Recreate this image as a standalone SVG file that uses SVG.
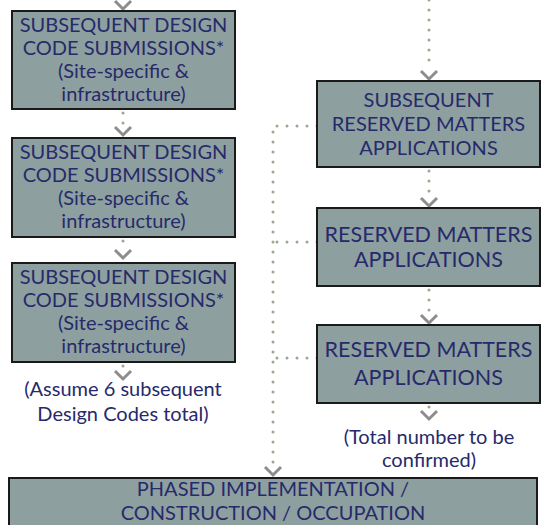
<svg xmlns="http://www.w3.org/2000/svg" width="547" height="525" viewBox="0 0 547 525">
<style>
.box{fill:#8e9f9f;stroke:#1a1a1a;stroke-width:2}
.t{font-family:Lato,"Open Sans",sans-serif;fill:#262a6b;text-anchor:middle}
.s20{font-size:20px}
.s22{font-size:21.5px}
.dot{stroke:#9aa88f;stroke-width:3;stroke-linecap:round;stroke-dasharray:0 10;fill:none}
.chev{stroke:#8d8d8d;stroke-width:3;fill:none}
</style>
<rect width="547" height="525" fill="#ffffff"/>
<g id="connectors">
  <path class="dot" d="M429 0V68"/>
  <path class="dot" d="M429 171V200"/>
  <path class="dot" d="M429 290V317"/>
  <path class="dot" d="M429 407V413"/>
  <path class="dot" d="M123 113V128"/>
  <path class="dot" d="M123 241V250"/>
  <path class="dot" d="M123 366V372"/>
  <path class="dot" d="M317 126H273V468"/>
  <path class="dot" d="M317 242H273"/>
  <path class="dot" d="M317 358H273"/>
  <polyline class="chev" points="115,1 123,9 131,1"/>
  <polyline class="chev" points="115,127 123,135 131,127"/>
  <polyline class="chev" points="115,250 123,258 131,250"/>
  <polyline class="chev" points="115,371 123,379 131,371"/>
  <polyline class="chev" points="421,71 429,79 437,71"/>
  <polyline class="chev" points="421,198 429,206 437,198"/>
  <polyline class="chev" points="421,315 429,323 437,315"/>
  <polyline class="chev" points="421,411 429,419 437,411"/>
  <polyline class="chev" points="265,467 273,475 281,467"/>
</g>
<g id="dc1">
  <rect class="box" x="12" y="11" width="223" height="98"/>
  <text class="t s20" x="123.5" y="32">SUBSEQUENT DESIGN</text>
  <text class="t s20" x="123.5" y="55">CODE SUBMISSIONS*</text>
  <text class="t s20" x="123.5" y="78">(Site-specific &amp;</text>
  <text class="t s20" x="123.5" y="101">infrastructure)</text>
</g>
<g id="dc2">
  <rect class="box" x="12" y="138" width="223" height="99"/>
  <text class="t s20" x="123.5" y="159">SUBSEQUENT DESIGN</text>
  <text class="t s20" x="123.5" y="182">CODE SUBMISSIONS*</text>
  <text class="t s20" x="123.5" y="205">(Site-specific &amp;</text>
  <text class="t s20" x="123.5" y="228">infrastructure)</text>
</g>
<g id="dc3">
  <rect class="box" x="12" y="263" width="223" height="99"/>
  <text class="t s20" x="123.5" y="284">SUBSEQUENT DESIGN</text>
  <text class="t s20" x="123.5" y="307">CODE SUBMISSIONS*</text>
  <text class="t s20" x="123.5" y="330">(Site-specific &amp;</text>
  <text class="t s20" x="123.5" y="353">infrastructure)</text>
</g>
<g id="note-left">
  <text class="t s20" x="123" y="396">(Assume 6 subsequent</text>
  <text class="t s20" x="123" y="421">Design Codes total)</text>
</g>
<g id="rm1">
  <rect class="box" x="317" y="81" width="223" height="86"/>
  <text class="t s20" x="428.5" y="107">SUBSEQUENT</text>
  <text class="t s20" x="428.5" y="131">RESERVED MATTERS</text>
  <text class="t s20" x="428.5" y="155">APPLICATIONS</text>
</g>
<g id="rm2">
  <rect class="box" x="317" y="208" width="223" height="78"/>
  <text class="t s22" x="428.5" y="242">RESERVED MATTERS</text>
  <text class="t s22" x="428.5" y="267">APPLICATIONS</text>
</g>
<g id="rm3">
  <rect class="box" x="317" y="325" width="223" height="78"/>
  <text class="t s22" x="428.5" y="357">RESERVED MATTERS</text>
  <text class="t s22" x="428.5" y="385">APPLICATIONS</text>
</g>
<g id="note-right">
  <text class="t s20" x="429" y="444">(Total number to be</text>
  <text class="t s20" x="429" y="467">confirmed)</text>
</g>
<g id="phased">
  <rect class="box" x="9" y="478" width="528" height="60"/>
  <text class="t s20" x="273" y="496">PHASED IMPLEMENTATION /</text>
  <text class="t s20" x="273" y="520">CONSTRUCTION / OCCUPATION</text>
</g>
</svg>
